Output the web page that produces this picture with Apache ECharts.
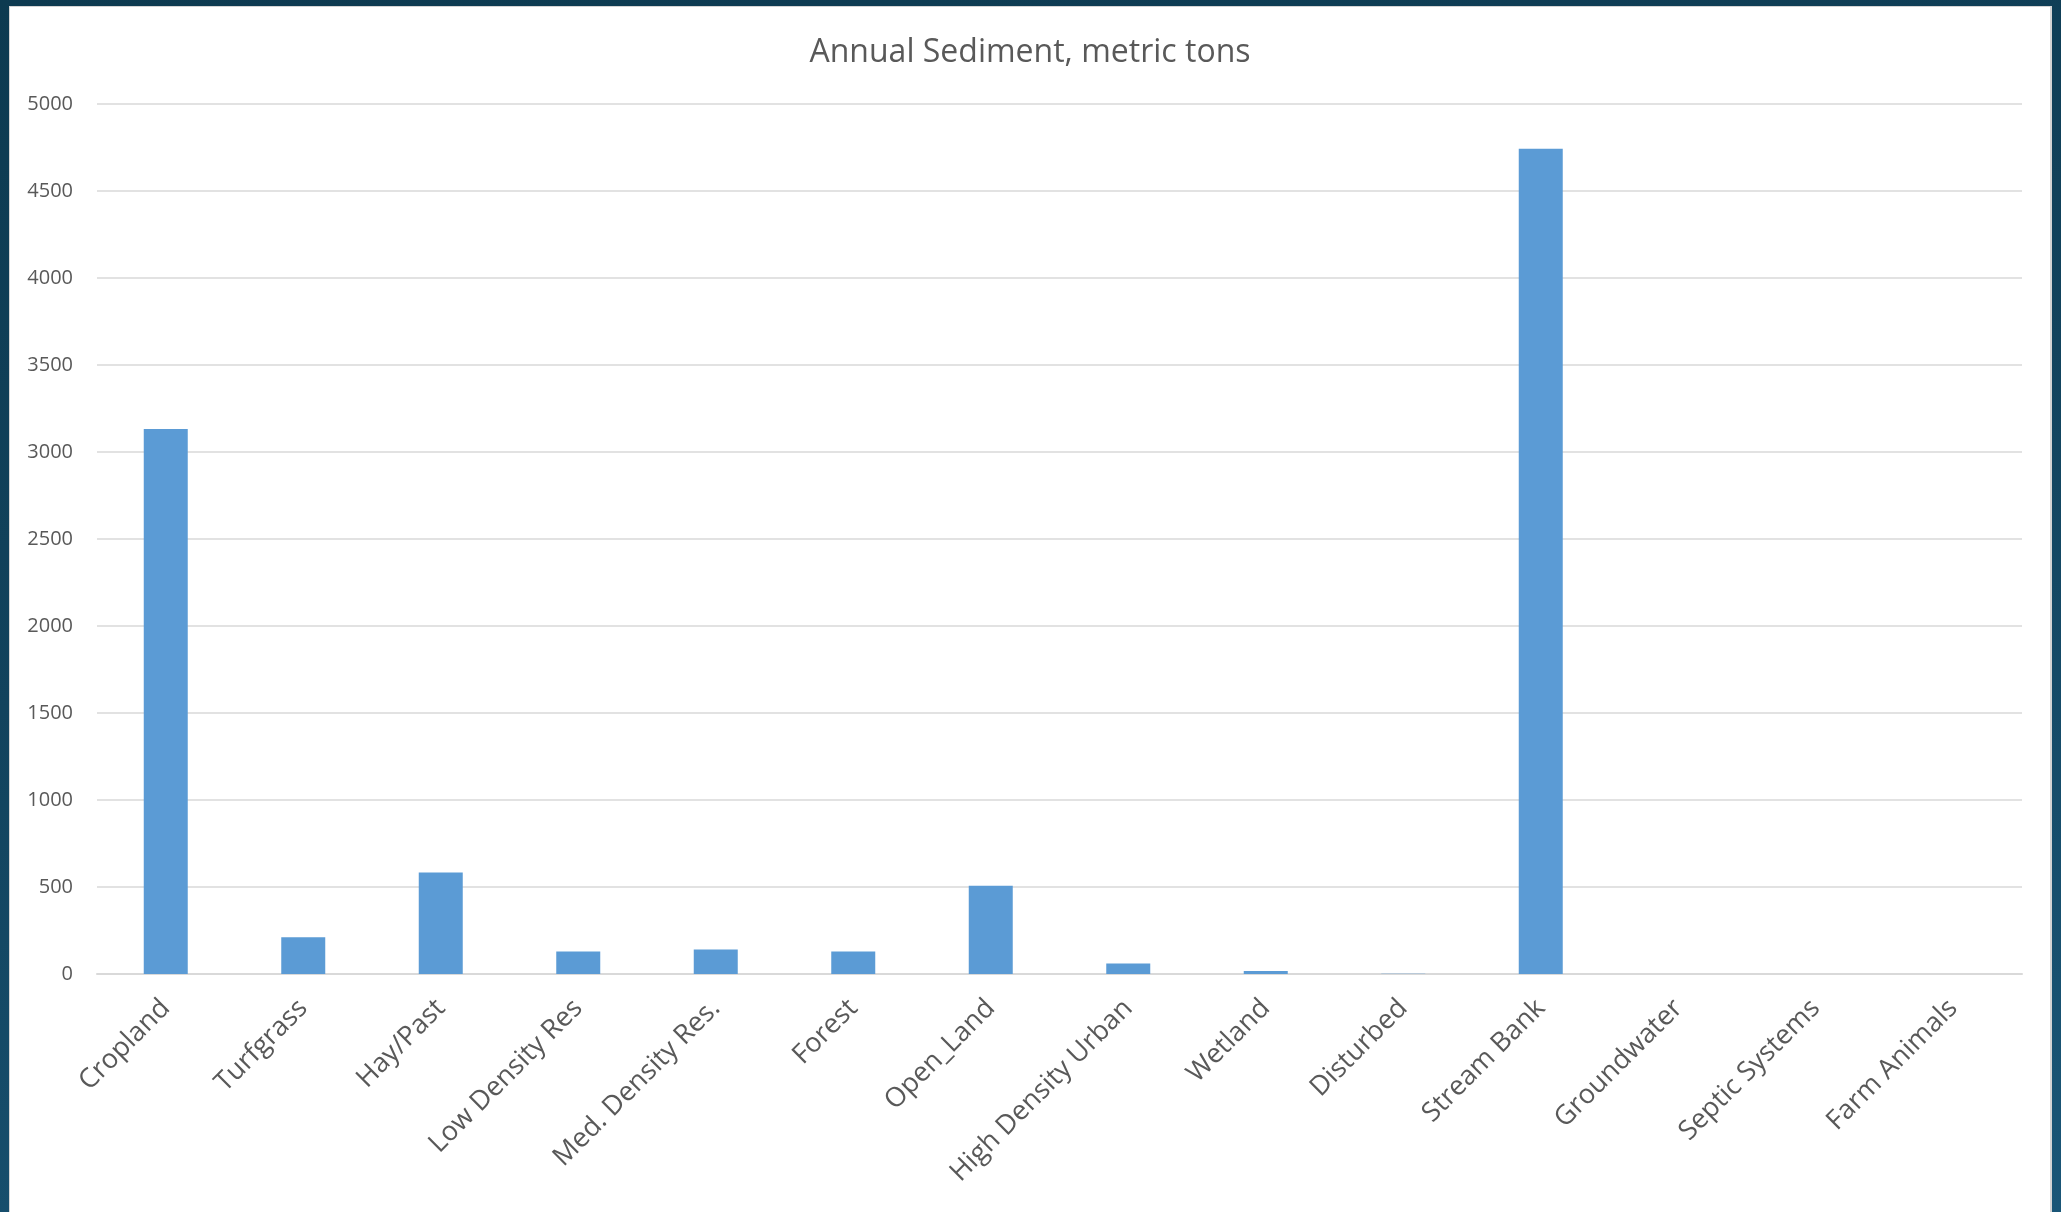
<!DOCTYPE html>
<html>
<head>
<meta charset="utf-8">
<script src="https://cdn.jsdelivr.net/npm/echarts@6/dist/echarts.min.js"></script>
<style>
html, body { margin: 0; padding: 0; width: 2061px; height: 1212px; overflow: hidden; }
body { background: linear-gradient(170deg, #0d3a50 0%, #12435d 45%, #1a5677 100%); position: relative; }
#panel { position: absolute; left: 9px; top: 6px; width: 2043px; height: 1206px; background: #ffffff; border: 1px solid #d4d4d4; border-width: 1px 2px 0 1px; box-sizing: border-box; }
#chart { position: absolute; left: 10px; top: 7px; width: 2040px; height: 1205px; }
</style>
</head>
<body>
<div id="panel"></div>
<div id="chart"></div>
<script>
const title = 'Annual Sediment, metric tons';
const categories = ['Cropland', 'Turfgrass', 'Hay/Past', 'Low Density Res', 'Med. Density Res.', 'Forest', 'Open_Land', 'High Density Urban', 'Wetland', 'Disturbed', 'Stream Bank', 'Groundwater', 'Septic Systems', 'Farm Animals'];
const sediment = [3132, 211, 584, 129, 141, 129, 507, 61, 17, 2, 4743, 0, 0, 0];
const yTicks = { min: 0, max: 5000, interval: 500 };

const chart = echarts.init(document.getElementById('chart'), null, { renderer: 'canvas' });
chart.setOption({
  animation: false,
  backgroundColor: 'transparent',
  textStyle: { fontFamily: 'Open Sans' },
  title: {
    text: title,
    left: 'center',
    top: 30,
    padding: 0,
    textStyle: { fontFamily: 'Open Sans', fontSize: 32, fontWeight: 'normal', color: '#595959' }
  },
  grid: { left: 87, right: 28, top: 97, bottom: 238, containLabel: false },
  xAxis: {
    type: 'category',
    data: categories,
    axisLine: { show: true, lineStyle: { color: '#d9d9d9', width: 2 } },
    axisTick: { show: false },
    axisLabel: {
      interval: 0,
      rotate: 45,
      margin: 30,
      fontFamily: 'Open Sans',
      fontSize: 27,
      color: '#595959'
    }
  },
  yAxis: {
    type: 'value',
    min: yTicks.min,
    max: yTicks.max,
    interval: yTicks.interval,
    axisLine: { show: false },
    axisTick: { show: false },
    splitLine: { lineStyle: { color: '#d9d9d9', width: 1.5 } },
    axisLabel: {
      margin: 24,
      fontFamily: 'Open Sans',
      fontSize: 20,
      color: '#595959',
      formatter: function (v) { return String(v); }
    }
  },
  series: [{
    type: 'bar',
    data: sediment,
    barWidth: 44,
    itemStyle: { color: '#5b9bd5' }
  }]
});
</script>
</body>
</html>
